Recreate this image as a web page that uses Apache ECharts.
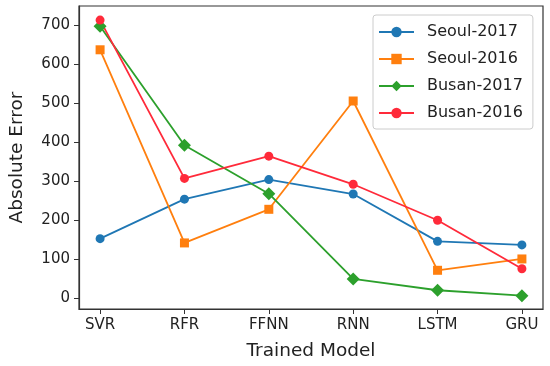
<!DOCTYPE html>
<html><head><meta charset="utf-8">
<script src="https://cdn.jsdelivr.net/npm/echarts@6/dist/echarts.min.js"></script>
<style>html,body{margin:0;padding:0;background:#fff}#c{width:550px;height:366px}</style>
</head><body><div id="c"></div>
<script>
const categories = ['SVR', 'RFR', 'FFNN', 'RNN', 'LSTM', 'GRU'];
const seoul2017 = [153, 254, 304, 267, 146, 137];
const seoul2016 = [636, 142, 228, 505, 72, 101];
const busan2017 = [696, 392, 268, 50, 21, 7];
const busan2016 = [712, 307, 364, 292, 200, 76];
const yTicks = [0, 100, 200, 300, 400, 500, 600, 700];

const font = 'DejaVu Sans';
function pts(arr){ return arr.map((v,i)=>[i,v]); }
function mk(name, data, color, symbol, size){
  return {name, type:'line', data:pts(data), color, symbol, symbolSize:size,
    showSymbol:true, lineStyle:{width:1.8, color}, itemStyle:{color}, z:3};
}
const chart = echarts.init(document.getElementById('c'), null, {renderer:'canvas'});
chart.setOption({
  animation:false,
  backgroundColor:'#fff',
  textStyle:{fontFamily:font},
  grid:{left:77, right:7, top:6, bottom:57, show:true, borderColor:'#333', borderWidth:1.2, backgroundColor:'transparent'},
  xAxis:{type:'value', min:-0.25, max:5.25,
    name:'Trained Model', nameLocation:'middle', nameGap:33,
    nameTextStyle:{fontSize:18.5, color:'#222', fontFamily:font},
    axisLine:{show:true, onZero:false, lineStyle:{color:'#333', width:1.2}},
    axisTick:{show:true, length:5, customValues:[0,1,2,3,4,5], lineStyle:{color:'#333'}},
    axisLabel:{customValues:[0,1,2,3,4,5], formatter:v=>categories[Math.round(v)], fontSize:15, color:'#222', margin:9, fontFamily:font},
    splitLine:{show:false}},
  yAxis:{type:'value', min:-27, max:748,
    name:'Absolute Error', nameLocation:'middle', nameGap:52,
    nameTextStyle:{fontSize:18.5, color:'#222', fontFamily:font},
    axisLine:{show:true, onZero:false, lineStyle:{color:'#333', width:1.2}},
    axisTick:{show:true, length:5, customValues:yTicks, lineStyle:{color:'#333'}},
    axisLabel:{customValues:yTicks, fontSize:15, color:'#222', margin:9, fontFamily:font},
    splitLine:{show:false}},
  legend:{orient:'vertical', left:373, top:15, width:160,
    backgroundColor:'#fff', borderColor:'#ccc', borderWidth:1, borderRadius:3,
    padding:[9,10,8,5], itemWidth:35, itemHeight:13, itemGap:11,
    textStyle:{fontSize:16, color:'#222', fontFamily:font, padding:[0,0,0,8]},
    data:['Seoul-2017','Seoul-2016','Busan-2017','Busan-2016']},
  series:[
    mk('Seoul-2017', seoul2017, '#1f77b4', 'circle', 9),
    mk('Seoul-2016', seoul2016, '#ff7f0e', 'rect', 9),
    mk('Busan-2017', busan2017, '#2ca02c', 'diamond', 13),
    mk('Busan-2016', busan2016, '#ff2a3a', 'circle', 9)
  ]
});
</script></body></html>
